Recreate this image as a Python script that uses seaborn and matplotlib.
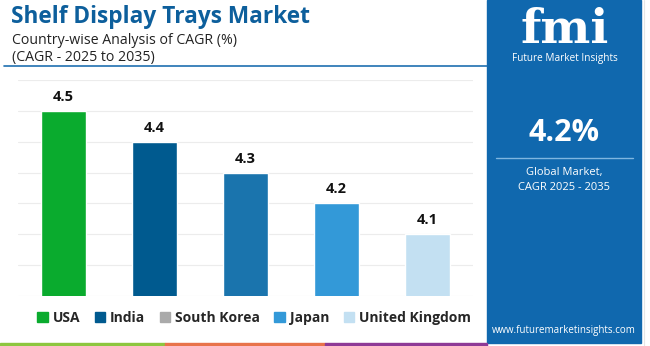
import matplotlib
matplotlib.use("Agg")
import matplotlib.pyplot as plt
import seaborn as sns
import pandas as pd
from matplotlib.patches import Rectangle
from matplotlib.lines import Line2D

countries = ["USA", "India", "South Korea", "Japan", "United Kingdom"]
cagr = [4.5, 4.4, 4.3, 4.2, 4.1]
bar_colors = ["#0aab2e", "#005a8f", "#1a74ad", "#3399d8", "#c3e0f2"]
legend_colors = ["#0aab2e", "#005a8f", "#aaaaaa", "#3399d8", "#c3e0f2"]
y_ticks = [3.9, 4.0, 4.1, 4.2, 4.3, 4.4, 4.5, 4.6]

title = "Shelf Display Trays Market"
subtitle1 = "Country-wise Analysis of CAGR (%)"
subtitle2 = "(CAGR - 2025 to 2035)"
global_cagr = "4.2%"

sns.set_theme(style="white")
plt.rcParams['font.family'] = ['Open Sans', 'DejaVu Sans']

W, H = 650, 346
fig = plt.figure(figsize=(W / 100, H / 100), dpi=100)
fig.patch.set_facecolor("white")

def fx(x):
    return x / W

def fy(y):
    return 1 - y / H

# Chart axes
ax = fig.add_axes([fx(18), fy(296), fx(455), (296 - 80) / H])
df = pd.DataFrame({"country": countries, "cagr": cagr})
sns.barplot(data=df, x="country", y="cagr", hue="country", palette=bar_colors,
            width=0.5, legend=False, ax=ax, saturation=1)
ax.set_ylim(3.9, 4.6)
ax.set_xlim(-0.5, 4.5)
ax.set_yticks(y_ticks)
ax.yaxis.grid(True, color="#ececec", linewidth=0.8)
ax.set_axisbelow(True)
for s in ax.spines.values():
    s.set_visible(False)
ax.set_xticks([])
ax.set_yticklabels([])
ax.tick_params(left=False, bottom=False)
ax.set_xlabel("")
ax.set_ylabel("")
for i, v in enumerate(cagr):
    ax.annotate(f"{v:.1f}", (i, v), xytext=(0, 5), textcoords="offset points",
                ha="center", va="bottom", fontsize=10.5, fontweight="bold", color="#111111")

# Titles
fig.text(fx(11), fy(17), title, fontsize=16.3, fontweight="bold", color="#0d5f9c",
         va="center", ha="left")
fig.text(fx(12), fy(40), subtitle1, fontsize=10.2, color="#222222", va="center", ha="left")
fig.text(fx(12), fy(58), subtitle2, fontsize=10.2, color="#222222", va="center", ha="left")
fig.add_artist(Line2D([fx(4), fx(487)], [fy(66), fy(66)], color="#1f6fb0", linewidth=1.2))

# Legend
handles = [Rectangle((0, 0), 1, 1, color=c) for c in legend_colors]
fig.legend(handles, countries, loc="center", bbox_to_anchor=(fx(254), fy(318)), ncol=5,
           frameon=False, prop={"weight": "bold", "size": 10}, handlelength=0.75,
           handleheight=0.75, handletextpad=0.35, columnspacing=1.05)

# Bottom stripe
for x0, x1, c in [(0, 165, "#8dc63f"), (165, 325, "#e8734a"), (325, 487, "#8e3a96")]:
    fig.add_artist(Rectangle((fx(x0), 0), fx(x1 - x0), 3 / H, color=c, transform=fig.transFigure))

# Right panel
fig.add_artist(Rectangle((fx(487), fy(343)), fx(641 - 487), (343) / H, color="#1068ae",
                         transform=fig.transFigure, zorder=0))
fig.add_artist(Line2D([fx(644), fx(644)], [0, 1], color="#e6e6e6", linewidth=0.8))
fig.text(fx(565), fy(30), "fmi", fontsize=34, fontweight="bold", color="white",
         ha="center", va="center", family="DejaVu Serif")
fig.text(fx(565), fy(58), "Future Market Insights", fontsize=7.2, color="white",
         ha="center", va="center")
fig.text(fx(564), fy(133), global_cagr, fontsize=22, fontweight="bold", color="white",
         ha="center", va="center")
fig.add_artist(Line2D([fx(496), fx(633)], [fy(158), fy(158)], color="#7fb6e0", linewidth=1))
fig.text(fx(564), fy(172), "Global Market,", fontsize=8, color="white", ha="center", va="center")
fig.text(fx(564), fy(188), "CAGR 2025 - 2035", fontsize=8, color="white", ha="center", va="center")
fig.text(fx(564), fy(331), "www.futuremarketinsights.com", fontsize=7, color="white",
         ha="center", va="center")

fig.savefig("out.png", dpi=100, facecolor="white")
